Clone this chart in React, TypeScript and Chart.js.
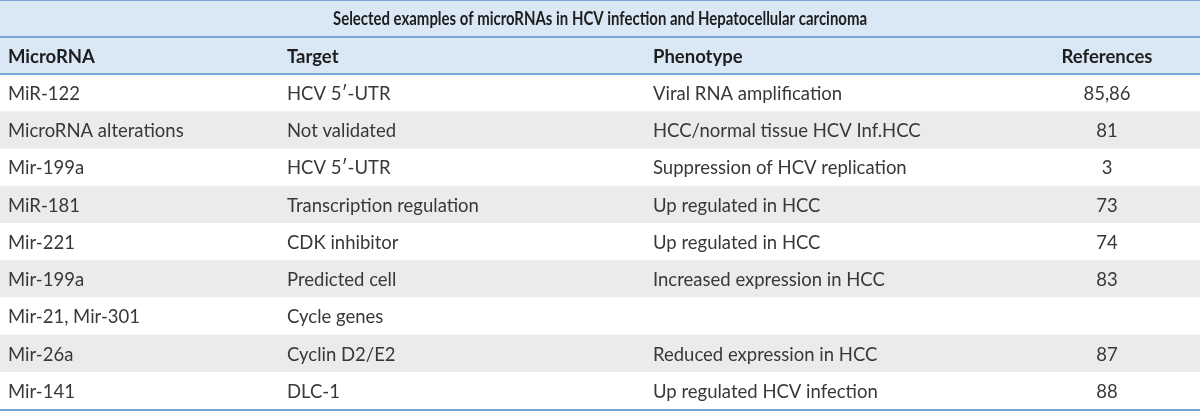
import React, { useEffect, useRef } from "react";
import { Chart, registerables } from "chart.js";

Chart.register(...registerables);

const tableTitle = "Selected examples of microRNAs in HCV infection and Hepatocellular carcinoma";
const headers = ["MicroRNA", "Target", "Phenotype", "References"];
const microRNAs = [
  "MiR-122",
  "MicroRNA alterations",
  "Mir-199a",
  "MiR-181",
  "Mir-221",
  "Mir-199a",
  "Mir-21, Mir-301",
  "Mir-26a",
  "Mir-141",
];
const targets = [
  "HCV 5\u2032-UTR",
  "Not validated",
  "HCV 5\u2032-UTR",
  "Transcription regulation",
  "CDK inhibitor",
  "Predicted cell",
  "Cycle genes",
  "Cyclin D2/E2",
  "DLC-1",
];
const phenotypes = [
  "Viral RNA amplification",
  "HCC/normal tissue HCV Inf.HCC",
  "Suppression of HCV replication",
  "Up regulated in HCC",
  "Up regulated in HCC",
  "Increased expression in HCC",
  "",
  "Reduced expression in HCC",
  "Up regulated HCV infection",
];
const references = ["85,86", "81", "3", "73", "74", "83", "", "87", "88"];

// layout / style (not data)
const WIDTH = 1200;
const HEIGHT = 411;
const colX = [8, 287, 653, 1107];
const colAlign: CanvasTextAlign[] = ["left", "left", "left", "center"];
const FONT = "Lato, 'Noto Sans', sans-serif";
const TITLE_MAX_W = 534;
const BLUE_BG = "#dae8f6";
const STRIPE = "#ebebeb";
const LINE = "#78a6d2";

export default function App() {
  const ref = useRef<HTMLCanvasElement | null>(null);

  useEffect(() => {
    document.body.style.margin = "0";
    const rowLabels = ["title", "header", ...microRNAs];
    const rows = [
      null,
      headers,
      ...microRNAs.map((m, i) => [m, targets[i], phenotypes[i], references[i]]),
    ];
    const bg = rowLabels.map((_, i) =>
      i < 2 ? BLUE_BG : (i - 2) % 2 === 1 ? STRIPE : "#ffffff"
    );

    const tablePlugin = {
      id: "tableText",
      afterDatasetsDraw(chart: any) {
        const ctx = chart.ctx as CanvasRenderingContext2D;
        const y = chart.scales.y;
        const x = chart.scales.x;
        const n = rowLabels.length;
        const step = n > 1 ? y.getPixelForValue(1) - y.getPixelForValue(0) : 0;
        const boundary = (i: number) => y.getPixelForValue(i) - step / 2;
        ctx.save();
        // lines
        ctx.strokeStyle = LINE;
        ctx.lineWidth = 2;
        [0, 1, 2, n].forEach((b) => {
          const py = Math.round(boundary(b));
          ctx.beginPath();
          ctx.moveTo(x.getPixelForValue(0), py);
          ctx.lineTo(x.getPixelForValue(WIDTH), py);
          ctx.stroke();
        });
        ctx.textBaseline = "middle";
        // title (fit to width)
        ctx.font = `bold 18px ${FONT}`;
        ctx.fillStyle = "#1e1e1e";
        ctx.textAlign = "center";
        const tw = ctx.measureText(tableTitle).width;
        const s = Math.min(1, TITLE_MAX_W / tw);
        ctx.save();
        ctx.translate(x.getPixelForValue(WIDTH / 2), y.getPixelForValue(0) + 1);
        ctx.scale(s, 1);
        ctx.fillText(tableTitle, 0, 0);
        ctx.restore();
        // rows
        for (let r = 1; r < n; r++) {
          const cells = rows[r] as string[];
          const py = y.getPixelForValue(r) + 1;
          ctx.font = r === 1 ? `bold 18.5px ${FONT}` : `18.5px ${FONT}`;
          ctx.fillStyle = r === 1 ? "#1e1e1e" : "#383838";
          cells.forEach((c, ci) => {
            ctx.textAlign = colAlign[ci];
            ctx.fillText(c, x.getPixelForValue(colX[ci]), py);
          });
        }
        ctx.restore();
      },
    };

    const chart = new Chart(ref.current as HTMLCanvasElement, {
      type: "bar",
      data: {
        labels: rowLabels,
        datasets: [
          {
            data: rowLabels.map(() => [0, WIDTH]) as any,
            backgroundColor: bg,
            borderWidth: 0,
            barPercentage: 1,
            categoryPercentage: 1,
          },
        ],
      },
      options: {
        indexAxis: "y",
        animation: false,
        responsive: true,
        maintainAspectRatio: false,
        layout: { padding: { top: 0, bottom: 1.5, left: 0, right: 0 } },
        plugins: { legend: { display: false }, tooltip: { enabled: false } },
        scales: {
          x: { type: "linear", min: 0, max: WIDTH, display: false },
          y: { type: "category", display: false, offset: true },
        },
      },
      plugins: [tablePlugin],
    });
    return () => chart.destroy();
  }, []);

  return (
    <div style={{ width: WIDTH, height: HEIGHT, position: "relative" }}>
      <canvas ref={ref} />
    </div>
  );
}
